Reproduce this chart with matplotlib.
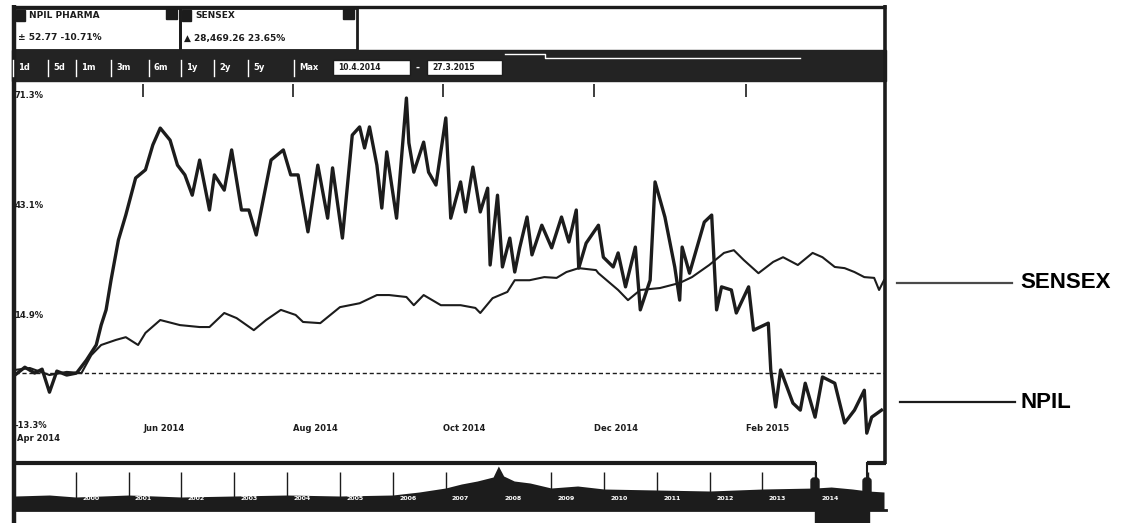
import numpy as np
import pandas as pd
import matplotlib
matplotlib.use("Agg")
import matplotlib.pyplot as plt
from matplotlib.patches import Rectangle, FancyBboxPatch

# ---- data (days after 10 Apr 2014, % change) ----
start = pd.Timestamp("2014-04-10")

npil_day = [0, 4, 8, 11, 14, 17, 21, 25, 29, 33, 35, 37, 39, 42, 45, 49, 53, 56, 59, 63,
            66, 69, 72, 75, 79, 81, 85, 88, 92, 95, 98, 100, 104, 109, 112, 115, 119, 123,
            127, 129, 133, 137, 140, 142, 144, 147, 149, 151, 155, 159, 160, 162, 166, 168,
            171, 175, 177, 181, 183, 186, 189, 192, 193, 196, 198, 201, 203, 205, 208, 210,
            214, 218, 222, 225, 228, 229, 232, 237, 239, 243, 245, 248, 252, 254, 258, 260,
            264, 268, 270, 271, 274, 280, 283, 285, 287, 291, 293, 298, 300, 306, 307, 309,
            311, 316, 319, 321, 325, 328, 333, 337, 341, 345, 346, 348, 352]
npil_pct = [-0.5, 1.5, 0.0, 1.0, -4.9, 0.5, -0.5, 0.0, 3.3, 7.2, 12.3, 16.2, 23.8, 34.1, 40.5,
            50.0, 52.1, 58.5, 62.8, 59.7, 53.3, 50.8, 45.6, 54.6, 41.8, 50.8, 46.9, 57.2, 41.8,
            41.8, 35.4, 41.8, 54.6, 57.2, 50.8, 50.8, 36.2, 53.3, 39.7, 52.6, 34.6, 61.0, 63.1,
            57.7, 63.1, 53.3, 42.3, 56.7, 39.7, 70.5, 59.0, 51.5, 59.2, 51.5, 48.2, 65.4, 39.7,
            49.0, 41.3, 52.8, 41.3, 47.4, 27.7, 45.6, 27.2, 34.6, 25.9, 32.1, 40.0, 30.3, 37.9,
            32.1, 40.0, 33.6, 41.8, 26.9, 33.3, 37.9, 29.7, 27.2, 30.8, 22.1, 32.3, 16.2, 23.8,
            49.0, 40.0, 27.2, 18.7, 32.3, 25.6, 38.7, 40.5, 16.2, 22.1, 21.3, 15.4, 22.1, 11.0,
            12.8, 0.8, -8.7, 0.8, -7.7, -9.5, -2.6, -11.3, -1.0, -2.6, -12.8, -9.5, -4.4, -15.4,
            -11.3, -9.5]

sensex_day = [0, 6, 14, 21, 27, 31, 35, 41, 45, 50, 53, 59, 67, 75, 79, 85, 90, 97, 102, 108,
              114, 117, 124, 132, 140, 147, 152, 159, 162, 166, 173, 181, 187, 189, 194, 200,
              203, 209, 215, 220, 224, 229, 236, 237, 245, 249, 254, 262, 270, 275, 282, 288,
              292, 296, 302, 308, 312, 318, 324, 328, 333, 337, 341, 345, 349, 351, 353]
sensex_pct = [0.8, 1.3, -0.5, 0.3, 0.0, 4.6, 7.2, 8.5, 9.2, 7.2, 10.3, 13.6, 12.3, 11.8, 11.8,
              15.4, 14.1, 11.0, 13.6, 16.2, 14.9, 13.1, 12.8, 16.9, 17.9, 20.0, 20.0, 19.5,
              17.4, 20.0, 17.4, 17.4, 16.7, 15.4, 19.2, 20.8, 23.8, 23.8, 24.6, 24.4, 25.9,
              26.9, 26.4, 25.6, 21.3, 18.7, 21.3, 21.8, 23.1, 24.6, 27.7, 30.8, 31.5, 29.0,
              25.6, 28.5, 29.7, 27.7, 30.8, 29.7, 27.2, 26.9, 25.9, 24.6, 24.4, 21.3, 23.8]

y_ticks = [-13.3, 14.9, 43.1, 71.3]
y_labels = ["-13.3%", "14.9%", "43.1%", "71.3%"]
month_ticks = ["2014-06-01", "2014-08-01", "2014-10-01", "2014-12-01", "2015-02-01"]
month_labels = ["Jun 2014", "Aug 2014", "Oct 2014", "Dec 2014", "Feb 2015"]

# long-history navigator strip
nav_year = [1998.85, 1999.5, 2000.0, 2000.5, 2001.0, 2002.0, 2003.0, 2004.0, 2005.0, 2006.0,
            2006.5, 2007.0, 2007.3, 2007.6, 2007.9, 2008.0, 2008.1, 2008.3, 2008.6, 2009.0,
            2009.5, 2010.0, 2011.0, 2012.0, 2013.0, 2014.0, 2014.3, 2014.7, 2015.0, 2015.3]
nav_val = [14, 15, 13, 14, 15, 13, 14, 15, 14, 15, 18, 22, 26, 29, 33, 44, 34, 29, 27, 22,
           24, 21, 20, 19, 21, 22, 23, 21, 19, 18]
nav_years_lbl = list(range(2000, 2016))

header_top = ["NPIL PHARMA", "SENSEX"]
header_bot = ["\u00b1 52.77 -10.71%", "\u25b2 28,469.26 23.65%"]
buttons = ["1d", "5d", "1m", "3m", "6m", "1y", "2y", "5y", "Max"]
date_boxes = ["10.4.2014", "27.3.2015"]

npil_dates = start + pd.to_timedelta(npil_day, unit="D")
sensex_dates = start + pd.to_timedelta(sensex_day, unit="D")

W, H = 1129, 523
fig = plt.figure(figsize=(W / 100, H / 100), dpi=100)
ink = "#1c1c1c"

# decoration layer in pixel coordinates
deco = fig.add_axes([0, 0, 1, 1], zorder=0)
deco.set_xlim(0, W)
deco.set_ylim(H, 0)
deco.axis("off")

# outer frame
deco.plot([14, 14], [5, H], color=ink, lw=3.2, solid_capstyle="butt")
deco.plot([12, 886], [6.5, 6.5], color=ink, lw=2.4, solid_capstyle="butt")
deco.plot([885, 885], [5, 464], color=ink, lw=2.6, solid_capstyle="butt")

# header legend boxes
for i, (x0, x1) in enumerate([(14, 180), (180, 357)]):
    deco.add_patch(Rectangle((x0, 8), x1 - x0, 42, fill=False, ec=ink, lw=2))
    deco.add_patch(Rectangle((x1 - 14, 9), 11, 10, color=ink))
    deco.add_patch(Rectangle((x0 + 2, 10), 9, 11, color=ink))
    deco.text(x0 + 15, 16, header_top[i], fontsize=6.5, fontweight="bold", va="center", color=ink)
    deco.text(x0 + 4, 38, header_bot[i], fontsize=6.5, fontweight="bold", va="center", color=ink)

# toolbar
deco.add_patch(Rectangle((12, 50), 874, 31, color="#232323"))
deco.plot([505, 545, 545, 800], [54, 54, 58, 58], color="white", lw=1)
bx = [12, 47, 75, 110, 148, 180, 213, 247, 293]
for i, b in enumerate(buttons):
    deco.plot([bx[i] + 1, bx[i] + 1], [60, 76], color="white", lw=1)
    deco.text(bx[i] + 6, 68, b, fontsize=6, fontweight="bold", color="white", va="center")
for (x0, x1), d in zip([(333, 410), (427, 502)], date_boxes):
    deco.add_patch(Rectangle((x0, 60), x1 - x0, 15, fc="white", ec=ink, lw=1))
    deco.text(x0 + 5, 67.5, d, fontsize=5.5, fontweight="bold", color=ink, va="center")
deco.text(418, 68, "-", fontsize=7, color="white", fontweight="bold", va="center", ha="center")

# navigator frame bits and handles
deco.plot([12, 816], [463, 463], color=ink, lw=3, solid_capstyle="butt")
deco.plot([867, 886], [463, 463], color=ink, lw=3, solid_capstyle="butt")
deco.plot([816, 816], [463, 478], color=ink, lw=1.5)
deco.plot([867, 867], [463, 478], color=ink, lw=1.5)
for hx in [811, 863]:
    deco.add_patch(FancyBboxPatch((hx, 478), 8, 22, boxstyle="round,pad=0,rounding_size=3",
                                  color=ink, zorder=5))
deco.add_patch(Rectangle((815, 509), 54, 14, color=ink))
deco.plot([14, 886], [510, 510], color=ink, lw=2)

# right-hand labels
deco.plot([897, 1012], [283, 283], color="#4a4a4a", lw=1.6)
deco.text(1020, 283, "SENSEX", fontsize=16, fontweight="bold", family="Liberation Sans",
          va="center", color="black")
deco.plot([900, 1015], [402, 402], color=ink, lw=1.6)
deco.text(1020, 402, "NPIL", fontsize=16, fontweight="bold", family="Liberation Sans",
          va="center", color="black")

# main chart
ax = fig.add_axes([15 / W, 1 - 455 / H, 869 / W, 371 / H], zorder=2)
ax.patch.set_alpha(0)
ax.plot(sensex_dates, sensex_pct, color=ink, lw=1.5)
ax.plot(npil_dates, npil_pct, color=ink, lw=2.4)
ax.axhline(0, color=ink, lw=1, ls=(0, (3, 2)))
ax.set_xlim(start, start + pd.Timedelta(days=353))
ax.set_ylim(-21.0, 74.1)
for s in ax.spines.values():
    s.set_visible(False)

ax.set_xticks(pd.to_datetime(month_ticks))
ax.set_xticklabels(month_labels, fontsize=6, fontweight="bold", ha="left")
ax.tick_params(axis="x", top=True, bottom=False, direction="in", length=9, width=1.2,
               pad=-22, color=ink, labelcolor=ink)
ax.set_yticks(y_ticks)
ax.set_yticklabels(y_labels, fontsize=6, fontweight="bold", ha="left")
ax.tick_params(axis="y", left=False, pad=-3, labelcolor=ink)
ax.text(0.002, 0.045, "Apr 2014", transform=ax.transAxes, fontsize=6, fontweight="bold",
        color=ink, va="center")

# navigator strip
nav = fig.add_axes([15 / W, 1 - 510 / H, 869 / W, 44 / H], zorder=1)
nav.patch.set_alpha(0)
nav.fill_between(nav_year, 0, nav_val, color=ink, lw=0)
nav.vlines(nav_years_lbl, 10, 38, color=ink, lw=1)
for yr in nav_years_lbl[:-1]:
    nav.text(yr + 0.12, 11, str(yr), fontsize=4.5, fontweight="bold", color="white", va="center")
nav.set_xlim(1998.85, 2015.3)
nav.set_ylim(0, 44)
nav.axis("off")

fig.savefig("out.png", dpi=100)
